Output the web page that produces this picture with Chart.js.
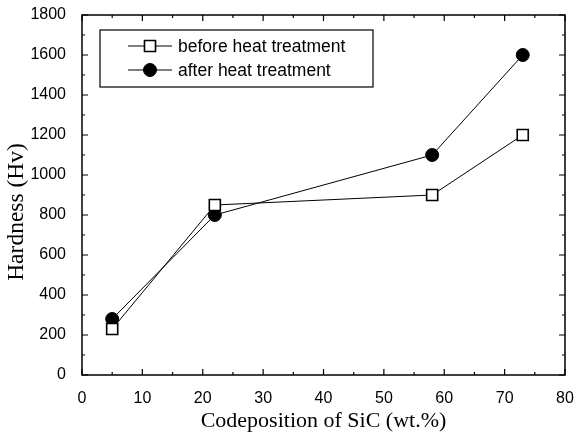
<!DOCTYPE html>
<html>
<head>
<meta charset="utf-8">
<script src="https://cdn.jsdelivr.net/npm/chart.js@4"></script>
<style>
  html, body { margin: 0; padding: 0; background: #fff; }
  #wrap { width: 576px; height: 438px; }
</style>
</head>
<body>
<div id="wrap"><canvas id="chart" width="576" height="438"></canvas></div>
<script>
// data
const sicContent = [5, 22, 58, 73];
const beforeHardness = [230, 850, 900, 1200];
const afterHardness = [280, 800, 1100, 1600];
const seriesNames = ["before heat treatment", "after heat treatment"];
const xTicks = [0, 10, 20, 30, 40, 50, 60, 70, 80];
const yTicks = [0, 200, 400, 600, 800, 1000, 1200, 1400, 1600, 1800];
const yTitle = "Hardness (Hv)";

const toPoints = (xs, ys) => xs.map((x, i) => ({ x: x, y: ys[i] }));

// frame + inward ticks on all four sides, plus the y title (sits a bit low in the original)
const framePlugin = {
    id: "frame",
    afterDraw(chart) {
        const { ctx, chartArea: a, scales } = chart;
        const xs = scales.x, ys = scales.y;
        ctx.save();
        ctx.strokeStyle = "#000";
        ctx.lineWidth = 1.5;
        ctx.strokeRect(a.left, a.top, a.right - a.left, a.bottom - a.top);
        ctx.lineWidth = 1.2;
        ctx.beginPath();
        for (let v = 0; v <= 80; v += 5) {
            const px = xs.getPixelForValue(v);
            const len = v % 10 === 0 ? 6 : 3;
            ctx.moveTo(px, a.bottom); ctx.lineTo(px, a.bottom - len);
            ctx.moveTo(px, a.top); ctx.lineTo(px, a.top + len);
        }
        for (let v = 0; v <= 1800; v += 100) {
            const py = ys.getPixelForValue(v);
            const len = v % 200 === 0 ? 6 : 3;
            ctx.moveTo(a.left, py); ctx.lineTo(a.left + len, py);
            ctx.moveTo(a.right, py); ctx.lineTo(a.right - len, py);
        }
        ctx.stroke();

        ctx.translate(17, 212);
        ctx.rotate(-Math.PI / 2);
        ctx.fillStyle = "#000";
        ctx.font = "23.5px 'Liberation Serif', 'Times New Roman', serif";
        ctx.textAlign = "center";
        ctx.textBaseline = "middle";
        ctx.fillText(yTitle, 0, 0);
        ctx.restore();
    }
};

// legend box inside the plot
const legendBox = {
    id: "legendBox",
    afterDraw(chart) {
        const { ctx } = chart;
        ctx.save();
        ctx.strokeStyle = "#000";
        ctx.lineWidth = 1.2;
        ctx.strokeRect(100, 30, 273, 57);
        ctx.font = "17.5px 'Liberation Sans', Arial, sans-serif";
        ctx.textBaseline = "middle";
        chart.data.datasets.forEach((ds, i) => {
            const y = 46 + i * 24;
            ctx.strokeStyle = "#000";
            ctx.lineWidth = 1;
            ctx.beginPath();
            ctx.moveTo(128, y); ctx.lineTo(172, y);
            ctx.stroke();
            ctx.lineWidth = ds.pointBorderWidth;
            ctx.fillStyle = ds.pointBackgroundColor;
            Chart.helpers.drawPoint(ctx, {
                pointStyle: ds.pointStyle,
                radius: ds.pointRadius,
                rotation: 0,
                borderWidth: ds.pointBorderWidth
            }, 150, y);
            ctx.fillStyle = "#000";
            ctx.fillText(ds.label, 178, y + 1);
        });
        ctx.restore();
    }
};

new Chart(document.getElementById("chart"), {
    type: "line",
    data: {
        datasets: [
            {
                label: seriesNames[0],
                data: toPoints(sicContent, beforeHardness),
                borderColor: "#000",
                borderWidth: 1,
                pointStyle: "rect",
                pointRadius: 7.8,
                pointBackgroundColor: "#fff",
                pointBorderColor: "#000",
                pointBorderWidth: 1.6
            },
            {
                label: seriesNames[1],
                data: toPoints(sicContent, afterHardness),
                borderColor: "#000",
                borderWidth: 1,
                pointStyle: "circle",
                pointRadius: 6.5,
                pointBackgroundColor: "#000",
                pointBorderColor: "#000",
                pointBorderWidth: 1
            }
        ]
    },
    options: {
        responsive: false,
        animation: false,
        layout: { padding: { top: 15, right: 11, left: 0, bottom: 0 } },
        plugins: { legend: { display: false }, tooltip: { enabled: false } },
        scales: {
            x: {
                type: "linear",
                min: 0, max: 80,
                afterBuildTicks: (s) => { s.ticks = xTicks.map(v => ({ value: v })); },
                afterFit: (s) => { s.height = 63; s.paddingLeft = 0; s.paddingRight = 0; },
                grid: { display: false },
                border: { display: false },
                ticks: {
                    color: "#000", padding: 6,
                    font: { family: "'Liberation Sans', Arial, sans-serif", size: 16 },
                    callback: (v) => String(v)
                },
                title: {
                    display: true,
                    text: "Codeposition of SiC (wt.%)",
                    color: "#000",
                    padding: { top: 4 },
                    font: { family: "'Liberation Serif', 'Times New Roman', serif", size: 22 }
                }
            },
            y: {
                type: "linear",
                min: 0, max: 1800,
                afterBuildTicks: (s) => { s.ticks = yTicks.map(v => ({ value: v })); },
                afterFit: (s) => { s.width = 82; s.paddingTop = 0; s.paddingBottom = 0; },
                grid: { display: false },
                border: { display: false },
                ticks: {
                    color: "#000", padding: 8,
                    font: { family: "'Liberation Sans', Arial, sans-serif", size: 16 },
                    callback: (v) => String(v)
                },
                title: { display: false }
            }
        }
    },
    plugins: [framePlugin, legendBox]
});
</script>
</body>
</html>
